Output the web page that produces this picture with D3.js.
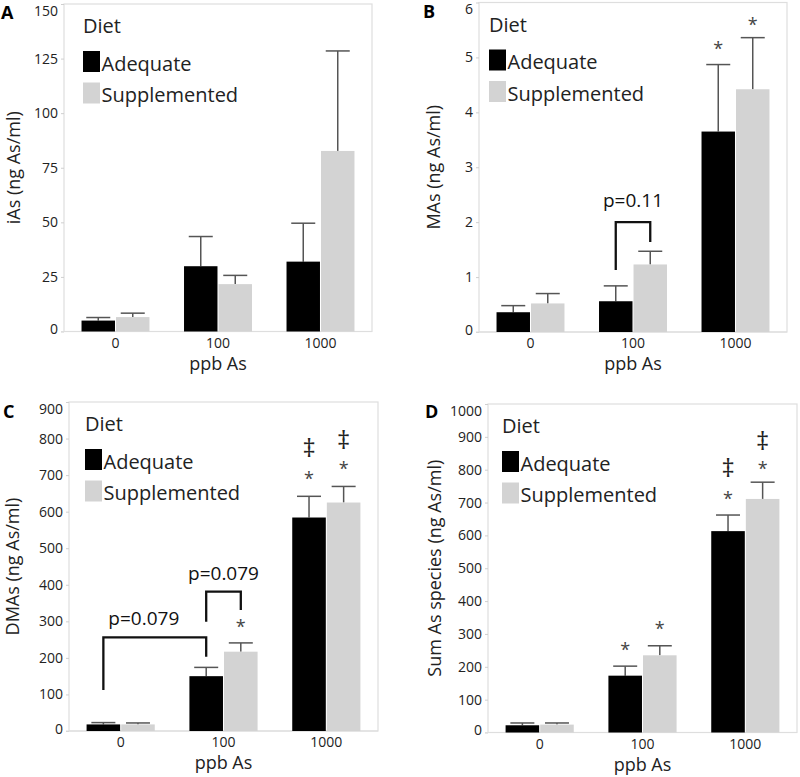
<!DOCTYPE html>
<html><head><meta charset="utf-8">
<script src="https://cdn.jsdelivr.net/npm/d3@7"></script>
<style>
body{margin:0;background:#fff}
svg{display:block}
text{font-family:"Open Sans",sans-serif}
</style>
</head><body>
<svg id="chart" width="800" height="777"></svg>
<script>
// ---------- data ----------
const doses = ["0", "100", "1000"];
const diets = ["Adequate", "Supplemented"];

const iAsAdequate = [5.0, 29.9, 32.0];
const iAsAdequateSE = [1.4, 13.6, 17.6];
const iAsSupplemented = [6.6, 21.7, 82.7];
const iAsSupplementedSE = [1.8, 4.0, 45.8];
const iAsTicks = [0, 25, 50, 75, 100, 125, 150];

const MAsAdequate = [0.36, 0.56, 3.65];
const MAsAdequateSE = [0.12, 0.28, 1.22];
const MAsSupplemented = [0.52, 1.23, 4.42];
const MAsSupplementedSE = [0.18, 0.24, 0.94];
const MAsTicks = [0, 1, 2, 3, 4, 5, 6];

const DMAsAdequate = [18, 150, 584];
const DMAsAdequateSE = [5, 24, 58];
const DMAsSupplemented = [18, 217, 625];
const DMAsSupplementedSE = [4, 24, 44];
const DMAsTicks = [0, 100, 200, 300, 400, 500, 600, 700, 800, 900];

const SumAdequate = [22, 173, 613];
const SumAdequateSE = [7, 29, 49];
const SumSupplemented = [24, 235, 711];
const SumSupplementedSE = [5, 29, 51];
const SumTicks = [0, 100, 200, 300, 400, 500, 600, 700, 800, 900, 1000];

const panelLetters = ["A", "B", "C", "D"];
const panelTitles = ["iAs (ng As/ml)", "MAs (ng As/ml)", "DMAs (ng As/ml)", "Sum As species (ng As/ml)"];
const legendTitle = "Diet";
const xTitle = "ppb As";

// significance markers (value = vertical centre of symbol, in data units)
const markers = [
  {panel: "B", dose: "1000", diet: "Adequate", symbol: "*", at: 5.22},
  {panel: "B", dose: "1000", diet: "Supplemented", symbol: "*", at: 5.67},
  {panel: "C", dose: "100", diet: "Supplemented", symbol: "*", at: 295},
  {panel: "C", dose: "1000", diet: "Adequate", symbol: "*", at: 700},
  {panel: "C", dose: "1000", diet: "Adequate", symbol: "‡", at: 782},
  {panel: "C", dose: "1000", diet: "Supplemented", symbol: "*", at: 728},
  {panel: "C", dose: "1000", diet: "Supplemented", symbol: "‡", at: 805},
  {panel: "D", dose: "100", diet: "Adequate", symbol: "*", at: 263},
  {panel: "D", dose: "100", diet: "Supplemented", symbol: "*", at: 327},
  {panel: "D", dose: "1000", diet: "Adequate", symbol: "*", at: 723},
  {panel: "D", dose: "1000", diet: "Adequate", symbol: "‡", at: 814},
  {panel: "D", dose: "1000", diet: "Supplemented", symbol: "*", at: 814},
  {panel: "D", dose: "1000", diet: "Supplemented", symbol: "‡", at: 895}
];

// comparison brackets (values in data units)
const brackets = [
  {panel: "B", from: ["100", "Adequate"], to: ["100", "Supplemented"], leftEnd: 1.13, rightEnd: 1.64, top: 2.0, label: "p=0.11", labelAt: 2.28, anchor: "middle"},
  {panel: "C", from: ["0", "Adequate"], to: ["100", "Adequate"], leftEnd: 112, rightEnd: 203, top: 256, label: "p=0.079", labelAt: 290, anchor: "start"},
  {panel: "C", from: ["100", "Adequate"], to: ["100", "Supplemented"], leftEnd: 299, rightEnd: 331, top: 381, label: "p=0.079", labelAt: 413, anchor: "middle"}
];

const panelData = {
  A: {means: [iAsAdequate, iAsSupplemented], ses: [iAsAdequateSE, iAsSupplementedSE], ticks: iAsTicks},
  B: {means: [MAsAdequate, MAsSupplemented], ses: [MAsAdequateSE, MAsSupplementedSE], ticks: MAsTicks},
  C: {means: [DMAsAdequate, DMAsSupplemented], ses: [DMAsAdequateSE, DMAsSupplementedSE], ticks: DMAsTicks},
  D: {means: [SumAdequate, SumSupplemented], ses: [SumAdequateSE, SumSupplementedSE], ticks: SumTicks}
};

// ---------- layout ----------
const layout = {
  A: {left: 64, right: 372, top: 4, bottom: 331.5, titleX: 20, letterX: 1, letterY: 19, legendX: 19},
  B: {left: 479, right: 787, top: 2.5, bottom: 332, titleX: 440, letterX: 423, letterY: 18, legendX: 10},
  C: {left: 69, right: 378, top: 402, bottom: 731, titleX: 19, letterX: 3, letterY: 418, legendX: 16},
  D: {left: 488, right: 797, top: 404, bottom: 732.5, titleX: 441, letterX: 425, letterY: 418, legendX: 14}
};
const colors = {Adequate: "#000000", Supplemented: "#d3d3d3"};

const svg = d3.select("#chart");

panelLetters.forEach((L, pi) => {
  const lay = layout[L];
  const pd = panelData[L];
  const g = svg.append("g");

  const x = d3.scaleBand().domain(doses).range([lay.left, lay.right]).paddingInner(0.337).paddingOuter(0.171);
  const xs = d3.scaleBand().domain(diets).range([0, x.bandwidth()]).paddingInner(0.03);
  const yMax = pd.ticks[pd.ticks.length - 1];
  const y = d3.scaleLinear().domain([0, yMax]).range([lay.bottom, lay.top]);

  // frame
  g.append("rect").attr("x", lay.left).attr("y", lay.top).attr("width", lay.right - lay.left)
    .attr("height", lay.bottom - lay.top).attr("fill", "none").attr("stroke", "#dedede").attr("stroke-width", 1.2);

  // y axis
  const ya = g.append("g").attr("transform", `translate(${lay.left},0)`)
    .call(d3.axisLeft(y).tickValues(pd.ticks).tickSize(3).tickPadding(3).tickFormat(d3.format("d")));
  ya.select(".domain").remove();
  ya.selectAll(".tick line").attr("stroke", "#cfcfcf");
  ya.selectAll(".tick text").attr("font-size", 14).attr("fill", "#222").attr("font-family", '"Open Sans",sans-serif')
    .attr("dy", d => d === yMax ? "0.8em" : (d === 0 ? "0.15em" : "0.32em"));

  // x axis
  const xa = g.append("g").attr("transform", `translate(0,${lay.bottom})`)
    .call(d3.axisBottom(x).tickSize(0).tickPadding(6.5));
  xa.select(".domain").remove();
  xa.selectAll(".tick text").attr("font-size", 14).attr("fill", "#222").attr("font-family", '"Open Sans",sans-serif');

  // bottom baseline extends slightly left
  g.append("line").attr("x1", lay.left - 3).attr("x2", lay.right).attr("y1", lay.bottom).attr("y2", lay.bottom)
    .attr("stroke", "#dedede").attr("stroke-width", 1.2);

  // bars
  diets.forEach((dname, si) => {
    doses.forEach((dose, di) => {
      const m = pd.means[si][di], se = pd.ses[si][di];
      const bx = x(dose) + xs(dname), bw = xs.bandwidth();
      const cx = bx + bw / 2;
      g.append("line").attr("x1", cx).attr("x2", cx).attr("y1", y(m)).attr("y2", y(m + se))
        .attr("stroke", "#555").attr("stroke-width", 1.5);
      g.append("line").attr("x1", cx - 12).attr("x2", cx + 12).attr("y1", y(m + se)).attr("y2", y(m + se))
        .attr("stroke", "#555").attr("stroke-width", 1.5);
      g.append("rect").attr("x", bx).attr("y", y(m)).attr("width", bw).attr("height", y(0) - y(m))
        .attr("fill", colors[dname]);
    });
  });

  // markers
  markers.filter(mk => mk.panel === L).forEach(mk => {
    const cx = x(mk.dose) + xs(mk.diet) + xs.bandwidth() / 2;
    if (mk.symbol === "*") {
      g.append("text").attr("x", cx).attr("y", y(mk.at) + 10).attr("text-anchor", "middle")
        .attr("font-size", 18).attr("fill", "#444").text(mk.symbol);
    } else {
      g.append("text").attr("x", cx).attr("y", y(mk.at) + 12).attr("text-anchor", "middle")
        .attr("font-size", 26).attr("fill", "#222").text(mk.symbol);
    }
  });

  // brackets
  brackets.filter(b => b.panel === L).forEach(b => {
    const x1 = x(b.from[0]) + xs(b.from[1]) + xs.bandwidth() / 2;
    const x2 = x(b.to[0]) + xs(b.to[1]) + xs.bandwidth() / 2;
    g.append("path").attr("d", `M${x1},${y(b.leftEnd)}V${y(b.top)}H${x2}V${y(b.rightEnd)}`)
      .attr("fill", "none").attr("stroke", "#111").attr("stroke-width", 2.3);
    const tx = b.anchor === "start" ? x1 + 5 : (x1 + x2) / 2;
    g.append("text").attr("x", tx).attr("y", y(b.labelAt)).attr("text-anchor", b.anchor)
      .attr("font-size", 19).attr("fill", "#111").text(b.label);
  });

  // legend
  const lx = lay.left + lay.legendX, ly = lay.top;
  g.append("text").attr("x", lx).attr("y", ly + 29).attr("font-size", 20).attr("fill", "#222").text(legendTitle);
  diets.forEach((dname, si) => {
    const sy = ly + 47 + si * 31.5;
    g.append("rect").attr("x", lx).attr("y", sy).attr("width", 17).attr("height", 21).attr("fill", colors[dname]);
    g.append("text").attr("x", lx + 18.5).attr("y", sy + 19.5).attr("font-size", 20).attr("fill", "#222").text(dname);
  });

  // axis titles
  g.append("text").attr("transform", `translate(${lay.titleX},${(lay.top + lay.bottom) / 2}) rotate(-90)`)
    .attr("text-anchor", "middle").attr("font-size", 18).attr("fill", "#222").text(panelTitles[pi]);
  g.append("text").attr("x", (lay.left + lay.right) / 2).attr("y", lay.bottom + 38)
    .attr("text-anchor", "middle").attr("font-size", 18).attr("fill", "#222").text(xTitle);

  // panel letter
  g.append("text").attr("x", lay.letterX).attr("y", lay.letterY).attr("font-family", "Arial, 'Liberation Sans', sans-serif")
    .attr("font-weight", "bold").attr("font-size", 18).attr("fill", "#000").text(L);
});
</script>
</body></html>
